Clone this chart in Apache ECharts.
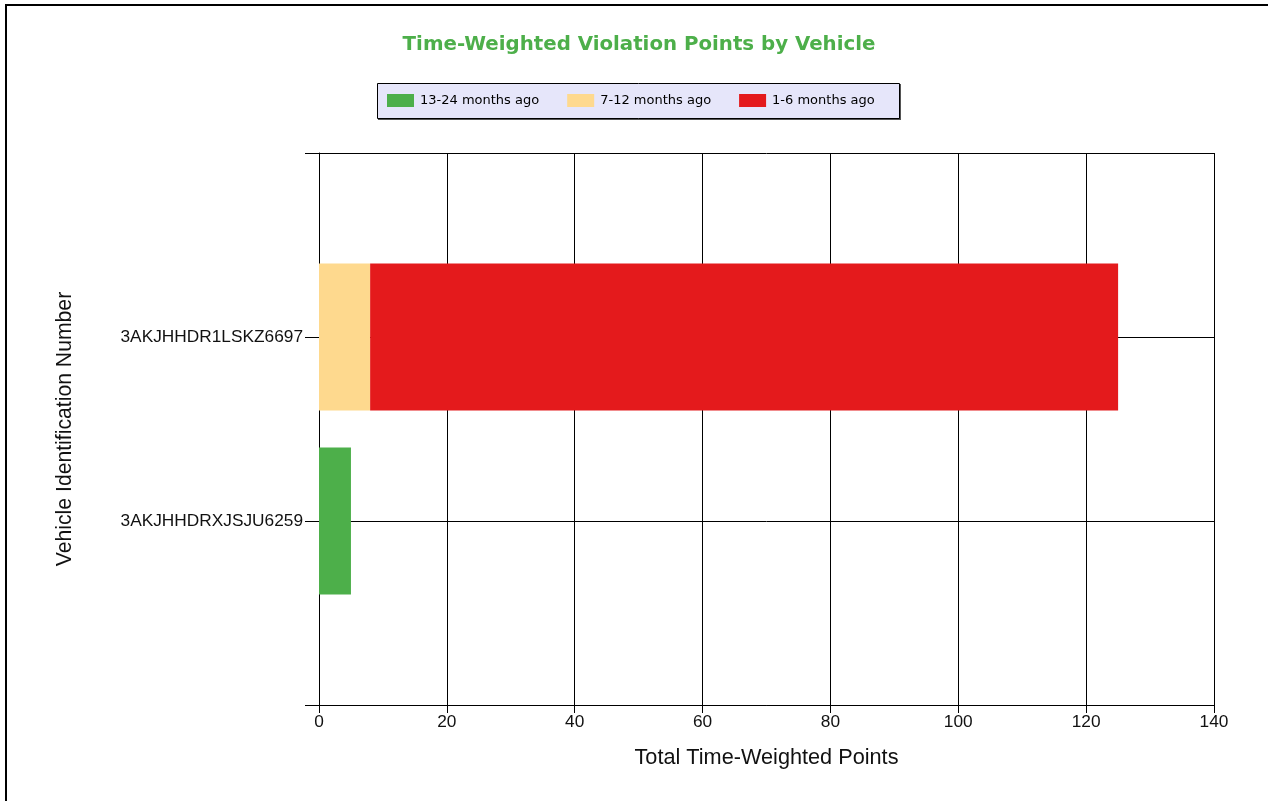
<!DOCTYPE html>
<html>
<head>
<meta charset="utf-8">
<script src="https://cdn.jsdelivr.net/npm/echarts@6/dist/echarts.min.js"></script>
<style>
html,body{margin:0;padding:0;background:#fff;}
#chart{width:1268px;height:801px;}
</style>
</head>
<body>
<div id="chart"></div>
<script>
// Data
var vehicles = ['3AKJHHDRXJSJU6259', '3AKJHHDR1LSKZ6697'];
var seriesNames = ['13-24 months ago', '7-12 months ago', '1-6 months ago'];
var older = [5, 0];      // 13-24 months ago
var middle = [0, 8];     // 7-12 months ago
var recent = [0, 117];   // 1-6 months ago
var xTicks = [0, 20, 40, 60, 80, 100, 120, 140];

var colors = ['#4daf4a', '#fed98e', '#e41a1c'];
var catAxis = [''].concat(vehicles).concat(['']);
function pad(arr) { return [null].concat(arr).concat([null]); }

var chart = echarts.init(document.getElementById('chart'));
var labelFont = 'Liberation Sans, Arial, sans-serif';
var option = {
  animation: false,
  backgroundColor: '#ffffff',
  title: {
    text: 'Time-Weighted Violation Points by Vehicle',
    left: 634, top: 30, textAlign: 'center',
    textStyle: { color: '#4daf4a', fontFamily: 'DejaVu Sans', fontWeight: 'bold', fontSize: 19.8 }
  },
  legend: {
    left: 387, top: 94,
    itemWidth: 27, itemHeight: 13, itemGap: 28,
    padding: 0,
    icon: 'rect',
    data: seriesNames,
    textStyle: { color: '#000', fontFamily: 'DejaVu Sans', fontSize: 13, padding: [0, 0, 0, 1] }
  },
  graphic: [
    { type: 'rect', z: -10, shape: { x: 6, y: 5, width: 1400, height: 1000 },
      style: { fill: 'none', stroke: '#000', lineWidth: 2 } },
    { type: 'rect', z: -10, shape: { x: 378, y: 84, width: 523, height: 36 },
      style: { fill: '#555', stroke: 'none' } },
    { type: 'rect', z: -9, shape: { x: 377.5, y: 83.5, width: 522, height: 35 },
      style: { fill: '#e6e6fa', stroke: '#000', lineWidth: 1 } }
  ],
  grid: { left: 319, right: 54, top: 153, bottom: 96, containLabel: false },
  xAxis: {
    type: 'value', min: 0, max: 140, interval: 20,
    name: 'Total Time-Weighted Points', nameLocation: 'middle', nameGap: 42,
    nameTextStyle: { color: '#111', fontFamily: labelFont, fontSize: 21.7 },
    axisLine: { show: true, lineStyle: { color: '#000', width: 1 } },
    axisTick: { show: true, length: 8, lineStyle: { color: '#000' } },
    axisLabel: { color: '#111', fontFamily: labelFont, fontSize: 17.3, margin: 9 },
    splitLine: { show: true, lineStyle: { color: '#000', width: 1 } }
  },
  yAxis: {
    type: 'category', data: catAxis, boundaryGap: false,
    name: 'Vehicle Identification Number', nameLocation: 'middle', nameGap: 243,
    nameTextStyle: { color: '#111', fontFamily: labelFont, fontSize: 21.2 },
    axisLine: { show: true, lineStyle: { color: '#000', width: 1 } },
    axisTick: { show: true, length: 14, lineStyle: { color: '#000' } },
    axisLabel: { color: '#111', fontFamily: labelFont, fontSize: 17.3, margin: 16 },
    splitLine: { show: true, lineStyle: { color: '#000', width: 1 } }
  },
  series: [
    { name: seriesNames[0], type: 'bar', stack: 'total', data: pad(older), barWidth: '80%', itemStyle: { color: colors[0] } },
    { name: seriesNames[1], type: 'bar', stack: 'total', data: pad(middle), barWidth: '80%', itemStyle: { color: colors[1] } },
    { name: seriesNames[2], type: 'bar', stack: 'total', data: pad(recent), barWidth: '80%', itemStyle: { color: colors[2] } }
  ]
};
chart.setOption(option);
</script>
</body>
</html>
